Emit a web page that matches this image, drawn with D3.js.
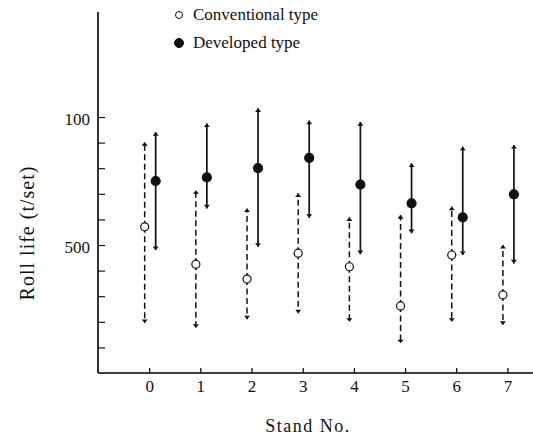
<!DOCTYPE html>
<html>
<head>
<meta charset="utf-8">
<script src="https://cdn.jsdelivr.net/npm/d3@7"></script>
<style>
  body { margin: 0; background: #fff; }
  text { font-family: "Liberation Serif", "DejaVu Serif", serif; fill: #111; }
</style>
</head>
<body>
<script>
// stand numbers and roll life (t/set): mean, max, min
var stands = [0, 1, 2, 3, 4, 5, 6, 7];
var convMean = [571, 425, 367, 468, 415, 262, 461, 305];
var convMax  = [902, 714, 643, 702, 608, 617, 650, 500];
var convMin  = [195, 176, 210, 233, 200, 116, 200, 188];
var devMean  = [750, 764, 800, 840, 736, 663, 608, 698];
var devMax   = [941, 975, 1034, 986, 980, 819, 884, 891];
var devMin   = [480, 643, 493, 606, 464, 546, 461, 428];
var yTickValues = [100, 200, 300, 400, 500, 600, 700, 800, 900, 1000];
var yTickLabels = {500: "500", 1000: "100"};
var legendLabels = ["Conventional type", "Developed type"];

var width = 533, height = 442;

var svg = d3.select("body").append("svg")
  .attr("width", width)
  .attr("height", height);

var x = d3.scaleLinear()
  .domain([-1, 7.5])
  .range([98, 533]);

var y = d3.scaleLinear()
  .domain([0, 1000])
  .range([373, 117]);

var yTop = 1410;

// axes
svg.append("g")
  .attr("transform", "translate(0," + y(0) + ")")
  .call(d3.axisBottom(x).tickValues(stands).tickSize(-5).tickPadding(7)
    .tickFormat(d3.format("d")))
  .call(function(g) {
    g.select(".domain").attr("d", "M" + x(-1) + ",0H" + width).attr("stroke-width", 1.6);
    g.selectAll(".tick line").attr("stroke-width", 1.2);
    g.selectAll(".tick text").style("font-size", "17px");
  });

svg.append("g")
  .attr("transform", "translate(" + x(-1) + ",0)")
  .call(d3.axisLeft(y).tickValues(yTickValues).tickSize(-7).tickPadding(8)
    .tickFormat(function(d) { return yTickLabels[d] || ""; }))
  .call(function(g) {
    g.select(".domain").attr("d", "M0," + y(yTop) + "V" + y(0)).attr("stroke-width", 1.6);
    g.selectAll(".tick line").attr("stroke-width", 1.1);
    g.selectAll(".tick text").style("font-size", "17px").attr("dy", "0.45em");
  });

// axis titles
svg.append("text")
  .attr("transform", "translate(34," + 233 + ") rotate(-90)")
  .attr("text-anchor", "middle")
  .style("font-size", "20px")
  .style("letter-spacing", "1px")
  .text("Roll life (t/set)");

svg.append("text")
  .attr("x", 308)
  .attr("y", 432)
  .attr("text-anchor", "middle")
  .style("font-size", "18px")
  .style("letter-spacing", "1.5px")
  .text("Stand No.");

// arrowheads
svg.append("defs").append("marker")
  .attr("id", "head")
  .attr("viewBox", "0 0 6 10")
  .attr("refX", 6)
  .attr("refY", 5)
  .attr("markerUnits", "userSpaceOnUse")
  .attr("markerWidth", 9)
  .attr("markerHeight", 6)
  .attr("orient", "auto")
  .append("path")
  .attr("d", "M0,0L10,5L0,10Z")
  .attr("transform", "scale(0.6,1)")
  .attr("fill", "#111");

function drawSeries(mean, max, min, dx, dashed, filled) {
  var g = svg.append("g");
  stands.forEach(function(s, i) {
    var cx = x(s) + dx;
    [max[i], min[i]].forEach(function(end) {
      g.append("line")
        .attr("x1", cx).attr("x2", cx)
        .attr("y1", y(mean[i])).attr("y2", y(end))
        .attr("stroke", "#111")
        .attr("stroke-width", dashed ? 1.5 : 1.7)
        .attr("stroke-dasharray", dashed ? "6,3.5" : null)
        .attr("marker-end", "url(#head)");
    });
    g.append("circle")
      .attr("cx", cx).attr("cy", y(mean[i]))
      .attr("r", filled ? 4.5 : 4)
      .attr("fill", filled ? "#111" : "#fff")
      .attr("stroke", "#111")
      .attr("stroke-width", 1.2);
  });
}

drawSeries(convMean, convMax, convMin, -4.5, true, false);
drawSeries(devMean, devMax, devMin, 6.5, false, true);

// legend
var legend = svg.append("g");
legendLabels.forEach(function(lbl, i) {
  var ly = 15 + i * 28;
  legend.append("circle")
    .attr("cx", 179).attr("cy", ly)
    .attr("r", i === 0 ? 3.5 : 4.5)
    .attr("fill", i === 0 ? "#fff" : "#111")
    .attr("stroke", "#111")
    .attr("stroke-width", 1);
  legend.append("text")
    .attr("x", 193).attr("y", ly + 5)
    .style("font-size", "17px")
    .text(lbl);
});
</script>
</body>
</html>
